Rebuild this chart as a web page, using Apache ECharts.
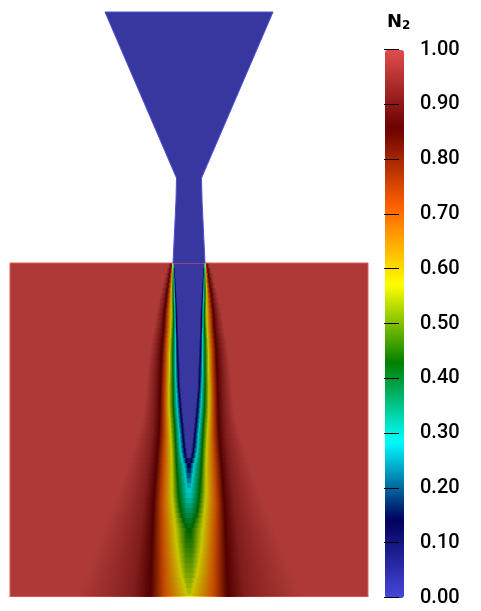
<!DOCTYPE html>
<html>
<head>
<meta charset="utf-8">
<title>N2</title>
<script src="https://cdn.jsdelivr.net/npm/echarts@6/dist/echarts.min.js"></script>
<style>
  html, body { margin: 0; background: #fff; }
  #chart { width: 481px; height: 611px; }
</style>
</head>
<body>
<div id="chart"></div>
<script>
// colour map, one colour every 1/7 of the range
const barColors = ['#4747db', '#00005c', '#00ffff', '#008000', '#ffff00', '#ff6100', '#6b0000', '#e04d4d'];
// same map as it looks on the lit surface
const fieldColors = ['#37379f', '#000048', '#00c7c7', '#006400', '#c7c700', '#c74c00', '#530000', '#ae3a38'];

const ticks = ['0.00', '0.10', '0.20', '0.30', '0.40', '0.50', '0.60', '0.70', '0.80', '0.90', '1.00'];

// nozzle outline: axial position and half width
const nozzleZ = [12, 178, 200, 232, 263];
const nozzleR = [84, 12.5, 13, 14.5, 16];

// box holding the jet
const boxR = 179;
const boxTop = 263;
const boxBottom = 597;

// jet rows: axial position, value on the axis, radius of the flat core, then the radius at which N2 reaches each map level
const zRows = [263, 268, 273, 278, 283, 288, 293, 298, 303, 308, 313, 318, 323, 328, 333, 338, 343, 348, 353, 358, 363, 368, 373, 378, 383, 388, 393, 398, 403, 408, 413, 418, 423, 428, 433, 438, 443, 448, 453, 458, 463, 468, 473, 478, 483, 488, 493, 498, 503, 508, 513, 518, 523, 528, 533, 538, 543, 548, 553, 558, 563, 568, 573, 578, 583, 588, 593, 596];
const axisValue = [0, 0, 0, 0, 0, 0, 0, 0, 0, 0, 0, 0, 0, 0, 0, 0, 0, 0, 0, 0, 0, 0, 0, 0, 0, 0, 0, 0, 0, 0, 0, 0, 0, 0, 0, 0, 0, 0, 0, 0.09, 0.143, 0.17, 0.2, 0.23, 0.26, 0.285, 0.3, 0.32, 0.34, 0.36, 0.38, 0.4, 0.415, 0.43, 0.44, 0.45, 0.46, 0.47, 0.48, 0.49, 0.5, 0.51, 0.52, 0.53, 0.54, 0.55, 0.56, 0.57];
const rCore = [14.5, 14.2, 13.7, 13.2, 12.9, 12.6, 12.3, 12, 11.7, 11.3, 11, 10.8, 10.7, 10.6, 10.4, 10.2, 10, 9.8, 9.6, 9.4, 9.2, 9, 8.9, 8.7, 8.5, 8.1, 7.6, 7.2, 6.7, 6.3, 5.8, 5.3, 4.7, 4.2, 3.7, 3.2, 2.7, 2.1, 1.2, 0.8, 1, 1.2, 1.3, 1.4, 1.5, 1.6, 1.7, 1.8, 1.9, 2, 2, 2, 1.8, 2, 2.5, 3, 3, 3, 3, 3, 3, 3, 3, 2.5, 2, 1.5, 0.7, null];
const r14 = [15, 14.7, 14.3, 14, 13.8, 13.7, 13.5, 13.3, 13, 12.8, 12.7, 12.6, 12.5, 12.4, 12.2, 12.1, 12, 11.8, 11.6, 11.4, 11.2, 11, 10.9, 10.7, 10.5, 10.1, 9.7, 9.3, 9, 8.5, 8.1, 7.6, 7.1, 6.6, 6.1, 5.7, 5.2, 4.6, 3.9, 2.7, null, null, null, null, null, null, null, null, null, null, null, null, null, null, null, null, null, null, null, null, null, null, null, null, null, null, null, null];
const r29 = [15.5, 15.3, 15.1, 15, 14.9, 14.8, 14.6, 14.4, 14.2, 14.1, 14, 13.9, 13.8, 13.6, 13.5, 13.5, 13.5, 13.5, 13.5, 13.5, 13.5, 13.5, 13.4, 13.2, 13, 12.8, 12.5, 12.3, 12, 11.6, 11.2, 10.9, 10.4, 9.9, 9.5, 9.2, 8.8, 8.3, 7.5, 6.3, 5, 4.3, 3.6, 3, 2, null, null, null, null, null, null, null, null, null, null, null, null, null, null, null, null, null, null, null, null, null, null, null];
const r43 = [16, 15.9, 15.9, 16, 16, 16, 15.9, 15.8, 15.6, 15.4, 15.3, 15.4, 15.5, 15.7, 15.8, 16, 16, 16, 16, 16, 16, 16, 16, 16, 16, 15.9, 15.8, 15.8, 15.7, 15.4, 15.1, 14.7, 14.3, 14.1, 13.9, 13.6, 13.3, 13.1, 12.9, 12.7, 12.5, 12.2, 11.9, 11.5, 11.2, 10.9, 10.4, 9.9, 9.3, 8.5, 7.3, 5.5, 3.5, null, null, null, null, null, null, null, null, null, null, null, null, null, null, null];
const r57 = [16.5, 16.6, 16.8, 17, 17.3, 17.6, 17.7, 17.7, 17.7, 17.7, 17.7, 17.8, 18, 18.3, 18.6, 18.9, 19, 19.3, 19.5, 19.5, 19.5, 19.5, 19.7, 19.8, 20, 20, 20, 20, 20, 19.8, 19.6, 19.3, 19, 18.7, 18.4, 18.1, 17.9, 17.6, 17.4, 17.2, 17.1, 17, 17, 17, 17, 17, 16.8, 16.5, 16, 15.5, 15, 14.5, 14, 13.5, 13.1, 12.7, 12.2, 11.6, 11, 10.3, 9.5, 8.6, 7.5, 6, 4.6, 3.2, 1.5, null];
const r71 = [17, 17.4, 17.9, 18.2, 18.7, 19.1, 19.5, 19.9, 20.3, 20.7, 21, 21.2, 21.4, 21.6, 22, 22.3, 22.6, 22.9, 23, 23, 23.2, 23.3, 23.4, 23.5, 23.7, 23.8, 23.9, 24, 24, 24, 24, 24, 24, 24, 24, 24.2, 24.4, 24.6, 24.8, 25, 25.2, 25.4, 25.6, 25.8, 26, 26.2, 26.4, 26.6, 26.7, 26.6, 26.5, 26.3, 26.2, 26, 25.9, 25.8, 25.6, 25.5, 25.3, 25.1, 25, 24.8, 24.7, 24.5, 24.4, 24.2, 24.1, 24];
const r86 = [18, 18.8, 19.5, 20.2, 20.9, 21.6, 22.2, 22.8, 23.4, 24, 24.5, 24.8, 25, 25.3, 25.8, 26.3, 26.7, 27, 27.3, 27.5, 27.7, 27.9, 28.1, 28.3, 28.5, 28.6, 28.7, 28.8, 28.9, 29, 29.1, 29.3, 29.5, 29.8, 30, 30.4, 30.8, 31.2, 31.6, 32, 32.4, 32.8, 33.2, 33.6, 34, 34.3, 34.6, 35, 35.3, 35.5, 35.7, 35.9, 36.1, 36.3, 36.5, 36.7, 36.9, 37.1, 37.3, 37.5, 37.6, 37.7, 37.8, 38, 38.2, 38.3, 38.4, 38.5];
const r93 = [19, 20.3, 21.2, 22, 23, 24, 24.8, 25.6, 26.5, 27.3, 28, 28.5, 29, 29.8, 30.5, 31.2, 32, 32.5, 33, 33.3, 33.6, 33.9, 34.2, 34.4, 34.6, 34.8, 35, 35.2, 35.4, 35.6, 35.8, 36, 36.3, 36.6, 37, 37.5, 38, 38.6, 39.2, 39.8, 40.4, 41, 41.6, 42.3, 43, 43.6, 44.2, 44.8, 45.4, 46, 46.6, 47.2, 47.8, 48.4, 49, 49.6, 50.2, 50.8, 51.4, 52, 52.6, 53.2, 53.8, 54.4, 55, 55.5, 56, 56];
const r97 = [20, 21.4, 22.6, 23.6, 24.6, 25.8, 26.8, 27.8, 28.7, 29.6, 30.4, 31, 31.7, 32.6, 33.4, 34.2, 35, 35.6, 36.2, 36.7, 37.2, 37.6, 38, 38.3, 38.6, 38.9, 39.2, 39.6, 40, 40.4, 40.9, 41.5, 42.3, 43.2, 44.1, 45, 46, 47, 48, 49, 50, 51, 52, 53, 54, 55, 56, 57, 58.3, 59.6, 61, 62.3, 63.6, 65, 66.3, 67.6, 69, 70.3, 71.6, 73, 74.2, 75.4, 76.6, 77.8, 79, 80, 81, 81];
const r100 = [21, 22.5, 24, 25.2, 26.4, 27.6, 28.8, 30, 31, 32, 33, 33.8, 34.6, 35.5, 36.5, 37.5, 38.3, 39, 39.7, 40.3, 40.9, 41.4, 41.9, 42.4, 42.8, 43.2, 43.6, 44, 44.6, 45.2, 46, 47, 48.4, 50, 51.7, 53.4, 55, 56.6, 58.2, 60, 61.6, 63.2, 65, 66.7, 68.5, 70.2, 72, 74, 76, 78, 80, 82, 84, 86, 88, 90, 92, 94, 96, 98, 100, 102, 104, 106, 108, 110, 112, 114];

const levelRadii = [r14, r29, r43, r57, r71, r86, r93, r97, r100];
const levelValues = [1 / 7, 2 / 7, 3 / 7, 4 / 7, 5 / 7, 6 / 7, 0.93, 0.965, 1];

const rowStops = (i, colors) => {
    const axisColor = echarts.color.lerp(axisValue[i], colors);
    const right = [{ r: 0, color: axisColor }];
    if (rCore[i] !== null) {
        right.push({ r: rCore[i], color: axisColor });
    }
    levelRadii.forEach((radii, k) => {
        if (radii[i] !== null) {
            right.push({ r: radii[i], color: echarts.color.lerp(levelValues[k], colors) });
        }
    });
    const left = right.slice(1).reverse().map((s) => ({ r: -s.r, color: s.color }));
    return left.concat(right).map((s) => ({ offset: (s.r + boxR) / (2 * boxR), color: s.color }));
};

const renderRow = (params, api) => {
    const i = params.dataIndex;
    const last = i === zRows.length - 1;
    const zNext = last ? boxBottom : zRows[i + 1];
    const a = api.coord([-boxR, zRows[i]]);
    const b = api.coord([boxR, zNext]);
    return {
        type: 'rect',
        shape: { x: a[0], y: a[1], width: b[0] - a[0], height: b[1] - a[1] + (last ? 0 : 0.6) },
        style: { fill: new echarts.graphic.LinearGradient(0, 0, 1, 0, rowStops(i, last ? barColors : fieldColors)) }
    };
};

const renderNozzle = (params, api) => {
    const right = nozzleZ.map((z, i) => api.coord([nozzleR[i], z]));
    const left = nozzleZ.map((z, i) => api.coord([-nozzleR[i], z])).reverse();
    const outline = right.slice().reverse().concat(left.slice().reverse());
    return {
        type: 'group',
        children: [
            { type: 'polygon', shape: { points: right.concat(left) }, style: { fill: fieldColors[0] } },
            { type: 'polyline', shape: { points: outline }, style: { fill: 'none', stroke: '#4f4fd4', lineWidth: 1 } }
        ]
    };
};

const renderBoxEdge = (params, api) => ({
    type: 'polyline',
    shape: {
        points: [
            api.coord([-boxR, boxBottom]),
            api.coord([-boxR, boxTop]),
            api.coord([boxR, boxTop]),
            api.coord([boxR, boxBottom])
        ]
    },
    style: { fill: 'none', stroke: '#dd5a58', lineWidth: 1 }
});

const chart = echarts.init(document.getElementById('chart'));
chart.setOption({
    animation: false,
    backgroundColor: '#fff',
    title: {
        left: 387,
        top: 14,
        padding: 0,
        text: '{n|N}{s|2}',
        textStyle: {
            rich: {
                n: { fontFamily: 'DejaVu Sans', fontWeight: 'bold', fontSize: 18, lineHeight: 18, color: '#000', padding: [0, 0, 2, 0] },
                s: { fontFamily: 'DejaVu Sans', fontWeight: 'bold', fontSize: 12, lineHeight: 12, color: '#000', verticalAlign: 'bottom' }
            }
        }
    },
    grid: [
        { left: 0, top: 0, width: 481, height: 611 },
        { left: 399, top: 49.5, width: 15, height: 548 }
    ],
    xAxis: [
        { type: 'value', gridIndex: 0, min: -189, max: 292, show: false },
        { type: 'value', gridIndex: 1, min: 0, max: 1, show: false }
    ],
    yAxis: [
        { type: 'value', gridIndex: 0, min: 0, max: 611, inverse: true, show: false },
        {
            type: 'value',
            gridIndex: 1,
            position: 'right',
            min: 0,
            max: 1,
            interval: 0.1,
            z: 10,
            axisLine: { show: false },
            splitLine: { show: false },
            axisTick: { inside: true, length: 15, lineStyle: { color: '#000', width: 1 } },
            axisLabel: {
                margin: 6,
                fontFamily: 'Roboto',
                fontWeight: 500,
                fontSize: 20,
                color: '#000',
                formatter: (v) => ticks[Math.round(v * 10)]
            }
        }
    ],
    visualMap: {
        type: 'continuous',
        seriesIndex: [],
        min: 0,
        max: 1,
        left: 385,
        top: 50,
        padding: 0,
        itemWidth: 19,
        itemHeight: 548,
        text: null,
        showLabel: false,
        calculable: false,
        hoverLink: false,
        realtime: false,
        inRange: { color: barColors }
    },
    series: [
        {
            name: 'jet',
            type: 'custom',
            coordinateSystem: 'cartesian2d',
            xAxisIndex: 0,
            yAxisIndex: 0,
            silent: true,
            data: zRows,
            renderItem: renderRow
        },
        {
            name: 'box edge',
            type: 'custom',
            coordinateSystem: 'cartesian2d',
            xAxisIndex: 0,
            yAxisIndex: 0,
            silent: true,
            data: [boxTop],
            renderItem: renderBoxEdge
        },
        {
            name: 'nozzle',
            type: 'custom',
            coordinateSystem: 'cartesian2d',
            xAxisIndex: 0,
            yAxisIndex: 0,
            silent: true,
            data: [nozzleZ[0]],
            renderItem: renderNozzle
        }
    ]
});
</script>
</body>
</html>
